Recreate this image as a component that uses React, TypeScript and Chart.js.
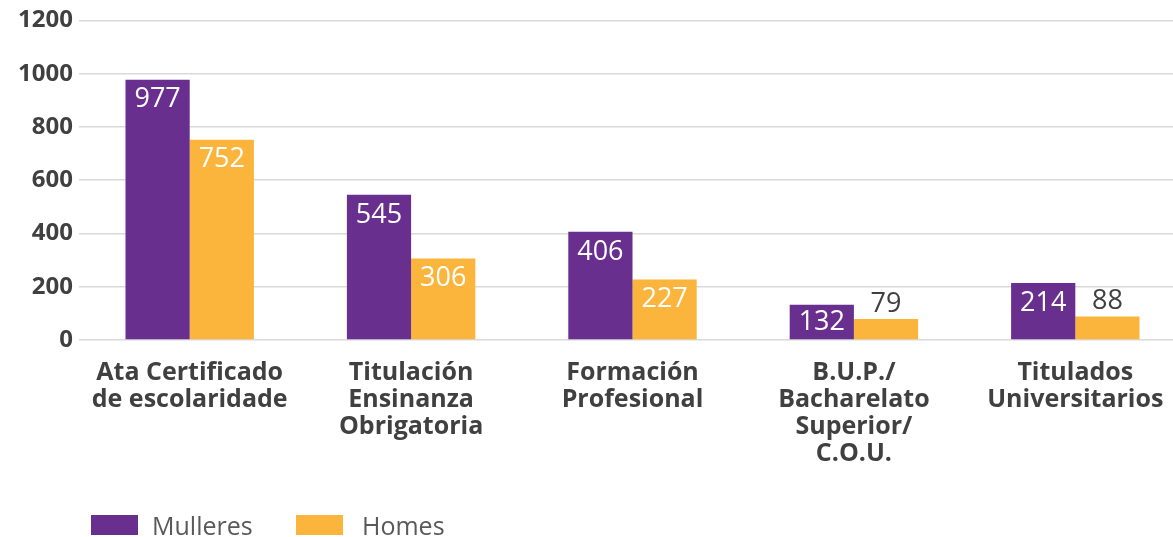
import React, { useEffect, useRef } from "react";
import { Chart, registerables } from "chart.js";

Chart.register(...registerables);

const categories: string[][] = [
  ["Ata Certificado", "de escolaridade"],
  ["Titulación", "Ensinanza", "Obrigatoria"],
  ["Formación", "Profesional"],
  ["B.U.P./", "Bacharelato", "Superior/", "C.O.U."],
  ["Titulados", "Universitarios"],
];
const mulleres: number[] = [977, 545, 406, 132, 214];
const homes: number[] = [752, 306, 227, 79, 88];
const seriesNames: string[] = ["Mulleres", "Homes"];
const yTicks: number[] = [0, 200, 400, 600, 800, 1000, 1200];

const PURPLE = "#692f8f";
const ORANGE = "#fbb43c";
const TEXT = "#404040";
const FONT = "'Open Sans', sans-serif";

const valueLabels = {
  id: "valueLabels",
  afterDatasetsDraw(chart: any) {
    const ctx = chart.ctx;
    ctx.save();
    ctx.font = `400 27px ${FONT}`;
    ctx.textAlign = "center";
    ctx.textBaseline = "middle";
    chart.data.datasets.forEach((ds: any, di: number) => {
      const meta = chart.getDatasetMeta(di);
      meta.data.forEach((el: any, i: number) => {
        const h = el.base - el.y;
        const v = String(ds.data[i]);
        if (h > 28) {
          ctx.fillStyle = "#ffffff";
          ctx.fillText(v, el.x, el.y + Math.min(20, h / 2));
        } else {
          ctx.fillStyle = TEXT;
          ctx.fillText(v, el.x, el.y - 15);
        }
      });
    });
    ctx.restore();
  },
};

export default function App() {
  const ref = useRef<HTMLCanvasElement>(null);
  useEffect(() => {
    if (!ref.current) return;
    const chart = new Chart(ref.current, {
      type: "bar",
      data: {
        labels: categories,
        datasets: [
          { label: seriesNames[0], data: mulleres, backgroundColor: PURPLE },
          { label: seriesNames[1], data: homes, backgroundColor: ORANGE },
        ],
      },
      options: {
        animation: false,
        responsive: false,
        layout: { padding: { top: 19, left: 0, right: 0, bottom: 0 } },
        datasets: {
          bar: { categoryPercentage: 0.58, barPercentage: 1.0 },
        },
        plugins: {
          legend: { display: false },
          tooltip: { enabled: false },
        },
        scales: {
          x: {
            grid: { display: false, drawTicks: false },
            border: { display: false },
            ticks: {
              color: TEXT,
              font: { family: FONT, size: 25, weight: "bold", lineHeight: 1.08 },
              padding: 19,
              maxRotation: 0,
              autoSkip: false,
            },
            afterFit: (s: any) => {
              s.height = 197;
            },
          },
          y: {
            min: 0,
            max: 1200,
            afterBuildTicks: (s: any) => {
              s.ticks = yTicks.map((v) => ({ value: v }));
            },
            grid: { color: "#d9d9d9", lineWidth: 1.5, drawTicks: false },
            border: { display: false },
            ticks: {
              color: TEXT,
              font: { family: FONT, size: 24, weight: "bold" },
              padding: 6,
              callback: (v: any) => String(v),
            },
            afterFit: (s: any) => {
              s.width = 79;
            },
          },
        },
      },
      plugins: [valueLabels],
    });
    return () => chart.destroy();
  }, []);

  const legendBox = (color: string, left: number) => (
    <div
      style={{
        position: "absolute",
        left,
        top: 515,
        width: 47,
        height: 20,
        background: color,
      }}
    />
  );
  const legendText = (text: string, left: number) => (
    <div
      style={{
        position: "absolute",
        left: left - 2,
        top: 510,
        fontFamily: FONT,
        fontSize: 25,
        color: "#595959",
        lineHeight: "30px",
        whiteSpace: "nowrap",
      }}
    >
      {text}
    </div>
  );

  return (
    <div
      style={{
        position: "absolute",
        left: 0,
        top: 0,
        width: 1173,
        height: 537,
        overflow: "hidden",
        background: "#ffffff",
      }}
    >
      <canvas
        ref={ref}
        width={1186}
        height={537}
        style={{ position: "absolute", left: 0, top: 0, width: 1186, height: 537 }}
      />
      {legendBox(PURPLE, 91)}
      {legendText(seriesNames[0], 154)}
      {legendBox(ORANGE, 296)}
      {legendText(seriesNames[1], 364)}
    </div>
  );
}
